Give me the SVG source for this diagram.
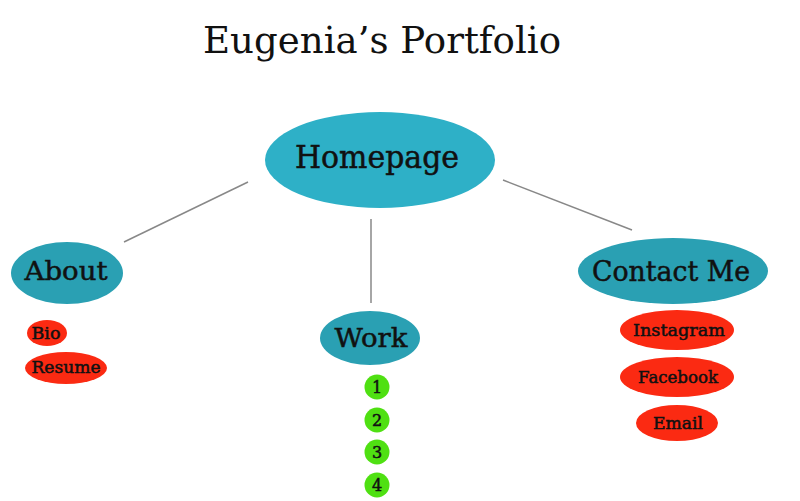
<svg xmlns="http://www.w3.org/2000/svg" width="800" height="501" viewBox="0 0 800 501">
<style>
text{font-family:"DejaVu Serif","Liberation Serif",serif;fill:#111;text-anchor:middle}
.lbl{stroke:#111;stroke-width:0.5}
.main{fill:#2aa0b3}
.home{fill:#2eb0c7}
.red{fill:#fb2a12}
.grn{fill:#4fe012}
.conn line{stroke:#888;stroke-width:1.5}
</style>
<rect width="800" height="501" fill="#fff"/>
<text x="382" y="53" font-size="37" textLength="358" lengthAdjust="spacingAndGlyphs">Eugenia’s Portfolio</text>
<g class="conn">
<line x1="248" y1="182" x2="124" y2="242"/>
<line x1="371" y1="219" x2="371" y2="303"/>
<line x1="503" y1="180" x2="632" y2="230"/>
</g>
<g id="homepage"><ellipse class="home" cx="380" cy="160" rx="115" ry="48"/><text class="lbl" x="377" y="168" font-size="31" textLength="164" lengthAdjust="spacingAndGlyphs">Homepage</text></g>
<g id="about"><ellipse class="main" cx="67" cy="273" rx="56" ry="31"/><text class="lbl" x="66" y="280" font-size="26" textLength="83" lengthAdjust="spacingAndGlyphs">About</text></g>
<g id="work"><ellipse class="main" cx="370" cy="338" rx="50" ry="27"/><text class="lbl" x="371" y="347" font-size="26" textLength="73" lengthAdjust="spacingAndGlyphs">Work</text></g>
<g id="contact"><ellipse class="main" cx="673" cy="271" rx="95" ry="33"/><text class="lbl" x="671" y="281" font-size="27" textLength="158" lengthAdjust="spacingAndGlyphs">Contact Me</text></g>
<g id="bio"><ellipse class="red" cx="47" cy="333" rx="20" ry="13"/><text class="lbl" x="46" y="339" font-size="16" textLength="29" lengthAdjust="spacingAndGlyphs">Bio</text></g>
<g id="resume"><ellipse class="red" cx="66" cy="368" rx="41" ry="16"/><text class="lbl" x="66" y="373" font-size="16" textLength="69" lengthAdjust="spacingAndGlyphs">Resume</text></g>
<g id="instagram"><ellipse class="red" cx="677" cy="330" rx="57" ry="20"/><text class="lbl" x="679" y="336" font-size="16" textLength="92" lengthAdjust="spacingAndGlyphs">Instagram</text></g>
<g id="facebook"><ellipse class="red" cx="677" cy="377" rx="57" ry="20"/><text class="lbl" x="678" y="383" font-size="16" textLength="80" lengthAdjust="spacingAndGlyphs">Facebook</text></g>
<g id="email"><ellipse class="red" cx="677" cy="423" rx="41" ry="18"/><text class="lbl" x="678" y="429" font-size="16" textLength="50" lengthAdjust="spacingAndGlyphs">Email</text></g>
<g id="w1"><circle class="grn" cx="377" cy="387" r="12.5"/><text class="lbl" x="377" y="393" font-size="16">1</text></g>
<g id="w2"><circle class="grn" cx="377" cy="420" r="12.5"/><text class="lbl" x="377" y="426" font-size="16">2</text></g>
<g id="w3"><circle class="grn" cx="377" cy="452" r="12.5"/><text class="lbl" x="377" y="458" font-size="16">3</text></g>
<g id="w4"><circle class="grn" cx="377" cy="485" r="12.5"/><text class="lbl" x="377" y="491" font-size="16">4</text></g>
</svg>
